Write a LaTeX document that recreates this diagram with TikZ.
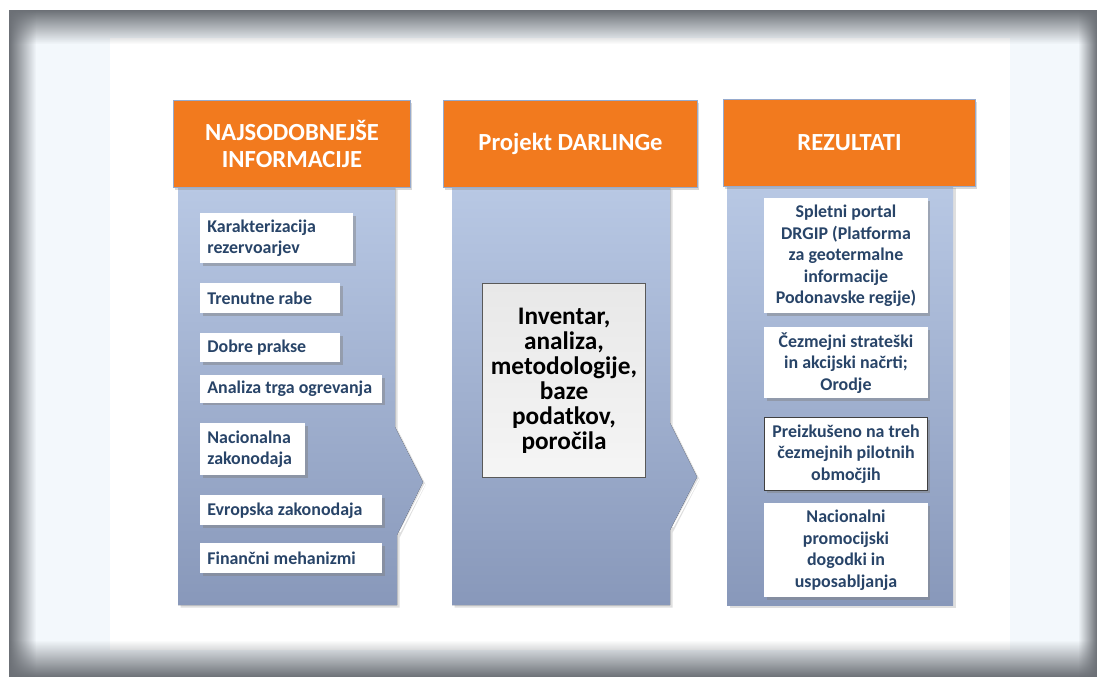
\documentclass[tikz,border=0pt]{standalone}
\usepackage{fontspec}
\setmainfont{Carlito}
\usetikzlibrary{shadows,fadings}

\definecolor{hdrorange}{RGB}{242,122,30}
\definecolor{hdrline}{RGB}{150,170,205}
\definecolor{bodytop}{RGB}{184,200,228}
\definecolor{bodybot}{RGB}{136,152,186}
\definecolor{itemblue}{RGB}{40,68,104}
\definecolor{framegray}{RGB}{108,112,118}
\definecolor{sidepale}{RGB}{243,248,252}
\definecolor{boxgray}{RGB}{232,232,232}

\tikzset{
  header/.style={fill=hdrorange, draw=hdrline, line width=0.6pt, text=white,
    font=\bfseries\fontsize{14}{15.5}\selectfont, align=flush center, anchor=north west,
    inner sep=0pt, minimum height=1.74cm,
    drop shadow={shadow xshift=1pt, shadow yshift=-1.5pt, opacity=0.3}},
  body/.style={top color=bodytop, bottom color=bodybot,
    drop shadow={shadow xshift=1.5pt, shadow yshift=-1.5pt, opacity=0.25}},
  item/.style={fill=white, text=itemblue, font=\bfseries\fontsize{10.2}{12.3}\selectfont,
    inner ysep=2pt,
    drop shadow={shadow xshift=1.5pt, shadow yshift=-1.5pt, opacity=0.45}},
  litem/.style={item, anchor=north west, align=flush left, inner xsep=4pt},
  ritem/.style={item, anchor=north, align=flush center, inner xsep=1pt, text width=3.2cm},
  core/.style={top color=boxgray, bottom color=white!96!black, draw=black!65,
    line width=0.6pt, font=\bfseries\fontsize{14.4}{14.2}\selectfont, align=flush center,
    anchor=north west, inner sep=0pt, minimum width=3.26cm, minimum height=3.88cm,
    text width=3.2cm}
}

\begin{document}
\begin{tikzpicture}[x=0.02cm, y=-0.02cm]
\useasboundingbox[fill=white] (0,0) rectangle (1097,677);

% frame
\fill[sidepale] (9,10) rectangle (1097,677);
\fill[white] (110,38) rectangle (1010,650);
\fill[framegray, path fading=south] (9,10) rectangle (1097,44);
\fill[framegray, path fading=east] (9,10) rectangle (36,677);
\fill[framegray, path fading=north] (9,640) rectangle (1097,677);
\fill[framegray, path fading=west] (1078,10) rectangle (1097,677);

% column bodies
\fill[body] (178,187) -- (395,187) -- (395,427) -- (423,482) -- (397,535)
  -- (397,605) -- (178,605) -- cycle;
\fill[body] (452,187) -- (670,187) -- (670,423) -- (697,477) -- (670,530)
  -- (670,605) -- (452,605) -- cycle;
\fill[body] (727,185) -- (953,185) -- (953,605) -- (727,605) -- cycle;
\draw[white, line width=0.7pt] (425,484) -- (400,532);
\draw[white, line width=0.7pt] (699,479) -- (673,527);

% headers
\node[header, minimum width=4.74cm] (hdrinfo) at (173,100) {NAJSODOBNEJŠE\\INFORMACIJE};
\node[header, minimum width=5.08cm] (hdrproj) at (443,100) {Projekt DARLINGe};
\node[header, minimum width=5.04cm] (hdrres) at (723,99) {REZULTATI};

% inputs
\node[litem, text width=2.78cm, minimum height=1.0cm] (karak) at (200,213) {Karakterizacija\\rezervoarjev};
\node[litem, text width=2.52cm, minimum height=0.6cm] (rabe) at (200,283) {Trenutne rabe};
\node[litem, text width=2.52cm, minimum height=0.58cm] (prakse) at (200,333) {Dobre prakse};
\node[litem, text width=3.36cm, minimum height=0.55cm] (trg) at (200,375) {Analiza trga ogrevanja};
\node[litem, text width=1.82cm, minimum height=1.04cm] (nacz) at (200,423) {Nacionalna\\zakonodaja};
\node[litem, text width=3.36cm, minimum height=0.6cm] (evz) at (200,495) {Evropska zakonodaja};
\node[litem, text width=3.36cm, minimum height=0.6cm] (finm) at (200,543) {Finančni mehanizmi};

% project
\node[core] (inv) at (482,283) {Inventar,\\analiza,\\metodologije,\\baze\\podatkov,\\poročila};

% results
\node[ritem, minimum height=2.3cm] (portal) at (846,198) {Spletni portal\\DRGIP (Platforma\\za geotermalne\\informacije\\Podonavske regije)};
\node[ritem, minimum height=1.42cm] (nacrti) at (846,327) {Čezmejni strateški\\in akcijski načrti;\\Orodje};
\node[ritem, minimum height=1.46cm, draw=black!75, line width=0.6pt] (pilot) at (846,417) {Preizkušeno na treh\\čezmejnih pilotnih\\območjih};
\node[ritem, minimum height=1.88cm] (promo) at (846,503) {Nacionalni\\promocijski\\dogodki in\\usposabljanja};
\end{tikzpicture}
\end{document}
